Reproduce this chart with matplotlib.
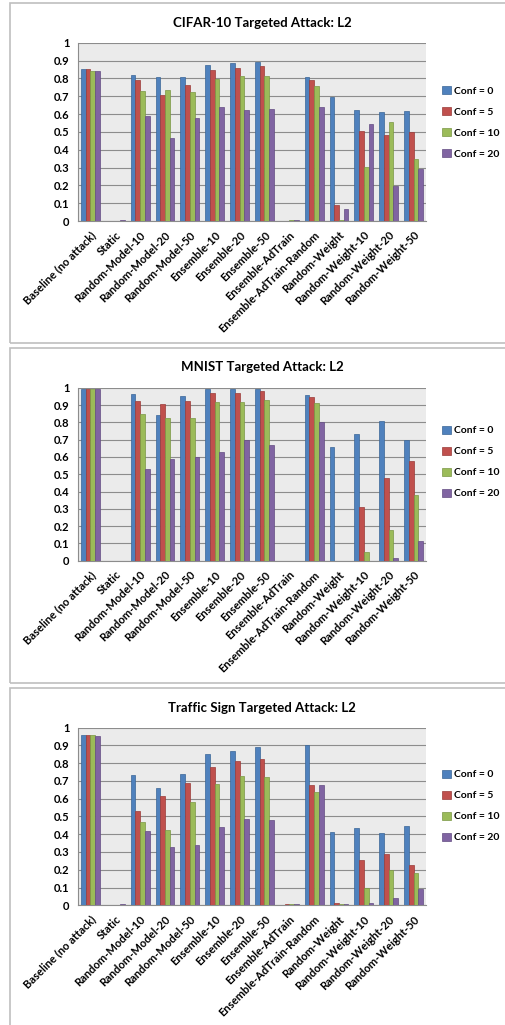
import matplotlib
matplotlib.use("Agg")
import matplotlib.pyplot as plt
from matplotlib.patches import Rectangle, Patch
import numpy as np

plt.rcParams['font.family'] = ['Lato', 'DejaVu Sans']
plt.rcParams['font.weight'] = 'bold'

categories = ["Baseline (no attack)", "Static", "Random-Model-10", "Random-Model-20",
              "Random-Model-50", "Ensemble-10", "Ensemble-20", "Ensemble-50",
              "Ensemble-AdTrain", "Ensemble-AdTrain-Random", "Random-Weight",
              "Random-Weight-10", "Random-Weight-20", "Random-Weight-50"]
conf_labels = ["Conf = 0", "Conf = 5", "Conf = 10", "Conf = 20"]

cifar_conf0 = [0.85, 0, 0.82, 0.81, 0.81, 0.875, 0.885, 0.89, 0, 0.805, 0.695, 0.625, 0.61, 0.615]
cifar_conf5 = [0.85, 0, 0.79, 0.705, 0.765, 0.845, 0.86, 0.87, 0, 0.79, 0.09, 0.505, 0.485, 0.50]
cifar_conf10 = [0.84, 0, 0.73, 0.735, 0.725, 0.795, 0.815, 0.815, 0.007, 0.755, 0.008, 0.305, 0.555, 0.345]
cifar_conf20 = [0.84, 0.008, 0.59, 0.465, 0.58, 0.64, 0.62, 0.63, 0.007, 0.64, 0.07, 0.545, 0.195, 0.29]

mnist_conf0 = [0.995, 0, 0.965, 0.845, 0.95, 0.99, 0.99, 0.99, 0, 0.955, 0.66, 0.73, 0.81, 0.695]
mnist_conf5 = [0.99, 0, 0.925, 0.905, 0.925, 0.97, 0.97, 0.98, 0, 0.945, 0, 0.31, 0.48, 0.575]
mnist_conf10 = [0.995, 0, 0.85, 0.825, 0.825, 0.92, 0.915, 0.93, 0, 0.91, 0, 0.05, 0.175, 0.38]
mnist_conf20 = [0.99, 0, 0.53, 0.59, 0.60, 0.63, 0.70, 0.67, 0, 0.80, 0, 0, 0.015, 0.115]

traffic_conf0 = [0.96, 0, 0.735, 0.66, 0.74, 0.85, 0.87, 0.89, 0, 0.90, 0.415, 0.435, 0.405, 0.445]
traffic_conf5 = [0.96, 0, 0.53, 0.615, 0.69, 0.78, 0.81, 0.825, 0.007, 0.675, 0.012, 0.255, 0.29, 0.225]
traffic_conf10 = [0.96, 0, 0.47, 0.425, 0.58, 0.68, 0.725, 0.72, 0.007, 0.64, 0.007, 0.10, 0.20, 0.18]
traffic_conf20 = [0.955, 0.008, 0.42, 0.33, 0.34, 0.44, 0.485, 0.48, 0.007, 0.675, 0.007, 0.012, 0.043, 0.09]

colors = ["#4F81BD", "#C0504D", "#9BBB59", "#8064A2"]
edges = ["#3A6596", "#9A3B39", "#7A9744", "#634C82"]

W, H = 505, 1025
fig = plt.figure(figsize=(W / 100, H / 100), dpi=100)
fig.patch.set_facecolor("white")


def px_axes(x0, x1, ytop, ybot):
    return fig.add_axes([x0 / W, 1 - ybot / H, (x1 - x0) / W, (ybot - ytop) / H])


def draw_panel(series, title, ytop, ybot, title_y, panel_top, panel_bot, leg_y):
    fig.patches.append(Rectangle((10 / W, 1 - panel_bot / H), 1, (panel_bot - panel_top) / H,
                                 transform=fig.transFigure, fill=False,
                                 edgecolor="#BFBFBF", lw=1.2, zorder=0))
    ax = px_axes(78, 426, ytop, ybot)
    ax.set_facecolor("#EBEBEB")
    x = np.arange(len(categories))
    bw = 0.19
    for i, vals in enumerate(series):
        ax.bar(x + (i - 1.5) * bw, vals, width=bw, color=colors[i],
               edgecolor=edges[i], linewidth=0.5, zorder=3)
    ax.set_xlim(-0.5, len(categories) - 0.5)
    ax.set_ylim(0, 1)
    ax.set_yticks(np.arange(0, 1.01, 0.1))
    ax.set_yticklabels(["0"] + ["%.1f" % v for v in np.arange(0.1, 0.95, 0.1)] + ["1"])
    ax.yaxis.grid(True, color="#8C8C8C", lw=0.8, zorder=1)
    ax.set_axisbelow(True)
    ax.set_xticks(x)
    ax.set_xticklabels(categories, rotation=45, ha="right", rotation_mode="anchor")
    ax.tick_params(axis="both", length=0, labelsize=8)
    ax.tick_params(axis="y", pad=6)
    ax.tick_params(axis="x", pad=6)
    for s in ["top", "right"]:
        ax.spines[s].set_visible(False)
    for s in ["left", "bottom"]:
        ax.spines[s].set_color("#8C8C8C")
        ax.spines[s].set_linewidth(0.8)
    handles = [Patch(facecolor=colors[i], edgecolor=edges[i], lw=0.5) for i in range(4)]
    ax.legend(handles, conf_labels, loc="center left", bbox_to_anchor=(1.02, leg_y),
              frameon=False, fontsize=7.5, handlelength=0.8, handleheight=0.8,
              handletextpad=0.3, labelspacing=1.1)
    fig.text(262 / W, 1 - title_y / H, title, ha="center", va="center",
             fontsize=9.5, fontweight="bold")
    return ax


draw_panel([cifar_conf0, cifar_conf5, cifar_conf10, cifar_conf20],
           "CIFAR-10 Targeted Attack: L2", 42.7, 221, 23, 3, 343, 0.553)
draw_panel([mnist_conf0, mnist_conf5, mnist_conf10, mnist_conf20],
           "MNIST Targeted Attack: L2", 387.7, 560.7, 367, 348, 683, 0.57)
draw_panel([traffic_conf0, traffic_conf5, traffic_conf10, traffic_conf20],
           "Traffic Sign Targeted Attack: L2", 727.6, 905.3, 708, 688, 1030, 0.559)

fig.savefig("out.png", dpi=100)
